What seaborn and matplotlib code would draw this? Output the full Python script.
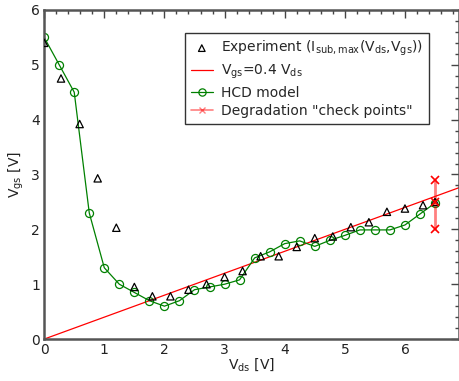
import matplotlib
matplotlib.use("Agg")
import matplotlib.pyplot as plt
import seaborn as sns
import numpy as np
import pandas as pd
from matplotlib.ticker import MultipleLocator

# Data
exp_vds = [0.0, 0.28, 0.59, 0.89, 1.2, 1.5, 1.8, 2.1, 2.4, 2.7, 3.0, 3.3, 3.6, 3.9, 4.2, 4.5, 4.8, 5.1, 5.4, 5.7, 6.0, 6.3, 6.5]
exp_vgs = [5.4, 4.75, 3.92, 2.93, 2.03, 0.95, 0.78, 0.78, 0.9, 1.0, 1.13, 1.24, 1.51, 1.51, 1.68, 1.84, 1.87, 2.04, 2.13, 2.32, 2.38, 2.44, 2.5]
hcd_vds = [0.0, 0.25, 0.5, 0.75, 1.0, 1.25, 1.5, 1.75, 2.0, 2.25, 2.5, 2.75, 3.0, 3.25, 3.5, 3.75, 4.0, 4.25, 4.5, 4.75, 5.0, 5.25, 5.5, 5.75, 6.0, 6.25, 6.5]
hcd_vgs = [5.5, 5.0, 4.5, 2.3, 1.3, 1.0, 0.85, 0.7, 0.6, 0.7, 0.9, 0.95, 1.0, 1.08, 1.48, 1.59, 1.74, 1.79, 1.69, 1.8, 1.89, 1.99, 1.99, 1.99, 2.08, 2.28, 2.48]
line_vds = [0.0, 6.9]
line_slope = 0.4
check_vds = [6.5, 6.5, 6.5]
check_vgs = [2.9, 2.5, 2.0]

sns.set_theme(style="white")
plt.rcParams['font.family'] = ['DejaVu Sans']
plt.rcParams['mathtext.default'] = 'regular'

fig = plt.figure(figsize=(4.6, 3.81), dpi=100)
ax = fig.add_axes([0.096, 0.110, 0.902, 0.864])

sns.scatterplot(x=exp_vds, y=exp_vgs, ax=ax, marker='^', s=28, facecolor='none',
                edgecolor='black', linewidth=0.9, label=r'Experiment (I$_{sub,max}$(V$_{ds}$,V$_{gs}$))', zorder=5)
lv = np.array(line_vds)
sns.lineplot(x=lv, y=line_slope * lv, ax=ax, color='red', linewidth=0.9, label=r'V$_{gs}$=0.4 V$_{ds}$')
sns.lineplot(x=hcd_vds, y=hcd_vgs, ax=ax, color='green', linewidth=0.9, marker='o', markersize=5.8,
             markerfacecolor='none', markeredgecolor='green', markeredgewidth=0.9, label='HCD model', sort=False)
ax.plot(check_vds, check_vgs, color='red', alpha=0.5, linewidth=2, zorder=3)
ax.plot(check_vds, check_vgs, linestyle='none', marker='x', color='red', markersize=6, markeredgewidth=1.2, zorder=6)
ax.plot([], [], color='red', alpha=0.5, linewidth=1.2, marker='x', markeredgecolor='red', markersize=5,
        label='Degradation "check points"')

ax.set_xlim(0, 6.9)
ax.set_ylim(0, 6)
ax.xaxis.set_major_locator(MultipleLocator(1))
ax.xaxis.set_minor_locator(MultipleLocator(0.2))
ax.yaxis.set_major_locator(MultipleLocator(1))
ax.yaxis.set_minor_locator(MultipleLocator(0.2))
ax.tick_params(which='both', direction='in', top=True, right=True, color='#444444', labelsize=10,
               labelcolor='#222222')
ax.tick_params(which='major', length=6, width=1, pad=3)
ax.tick_params(which='minor', length=3, width=1)
for sp in ax.spines.values():
    sp.set_color('#555555')
    sp.set_linewidth(1.8)
ax.set_xlabel(r'V$_{ds}$ [V]', fontsize=10, labelpad=-1, color='#222222')
ax.set_ylabel(r'V$_{gs}$ [V]', fontsize=10, labelpad=4, color='#222222')

leg = ax.legend(loc='upper left', bbox_to_anchor=(0.323, 0.95), fontsize=10, frameon=True, fancybox=False,
                edgecolor='#333333', framealpha=1, handlelength=1.6, borderpad=0.4, labelspacing=0.33,
                handletextpad=0.6, markerscale=0.9)
leg.get_frame().set_linewidth(1.0)

fig.savefig('out.png', dpi=100)
